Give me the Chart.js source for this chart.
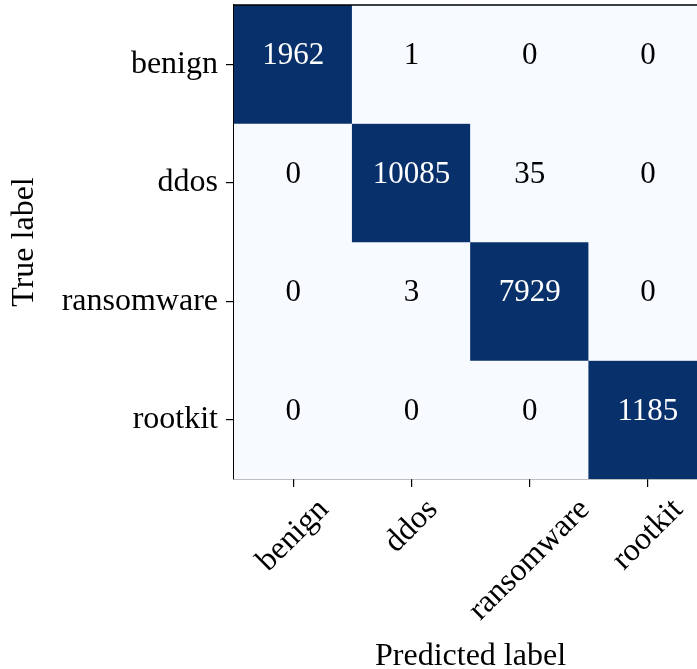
<!DOCTYPE html>
<html>
<head>
<meta charset="utf-8">
<script src="https://cdn.jsdelivr.net/npm/chart.js@4"></script>
<style>
  html, body { margin: 0; padding: 0; background: #fff; overflow: hidden; }
  #wrap { width: 712px; height: 669px; }
</style>
</head>
<body>
<div id="wrap"><canvas id="myChart"></canvas></div>
<script>
let classes = ['benign', 'ddos', 'ransomware', 'rootkit'];
let rowBenign = [1962, 1, 0, 0];
let rowDdos = [0, 10085, 35, 0];
let rowRansomware = [0, 3, 7929, 0];
let rowRootkit = [0, 0, 0, 1185];
let matrix = [rowBenign, rowDdos, rowRansomware, rowRootkit];

let fontFamily = '"Liberation Serif", "Times New Roman", serif';
let labelSize = 32;
let cellSize = 31;

// matplotlib "Blues"
let blues = ['#f7fbff', '#deebf7', '#c6dbef', '#9ecae1', '#6baed6', '#4292c6', '#2171b5', '#08519c', '#08306b'];

function hexToRgb(h) {
  return [parseInt(h.slice(1, 3), 16), parseInt(h.slice(3, 5), 16), parseInt(h.slice(5, 7), 16)];
}

function bluesColor(t) {
  t = Math.max(0, Math.min(1, t));
  let pos = t * (blues.length - 1);
  let i = Math.min(Math.floor(pos), blues.length - 2);
  let f = pos - i;
  let a = hexToRgb(blues[i]), b = hexToRgb(blues[i + 1]);
  let c = a.map((v, k) => Math.round(v + (b[k] - v) * f));
  return 'rgb(' + c.join(',') + ')';
}

// colour is the row-normalised share, text is the raw count
function share(r, c) {
  let sum = matrix[r].reduce((s, v) => s + v, 0);
  return sum ? matrix[r][c] / sum : 0;
}

let datasets = matrix.map((row, r) => ({
  label: classes[r],
  data: row.map(() => [r, r + 1]),
  backgroundColor: row.map((v, c) => bluesColor(share(r, c))),
  borderWidth: 0,
  barPercentage: 1,
  categoryPercentage: 1,
  grouped: false
}));

let cellText = {
  id: 'cellText',
  afterDatasetsDraw(chart) {
    let ctx = chart.ctx;
    ctx.save();
    ctx.font = cellSize + 'px ' + fontFamily;
    ctx.textAlign = 'center';
    ctx.textBaseline = 'middle';
    chart.data.datasets.forEach((ds, r) => {
      chart.getDatasetMeta(r).data.forEach((bar, c) => {
        let p = bar.getProps(['x', 'y', 'base'], true);
        ctx.fillStyle = share(r, c) > 0.5 ? '#ffffff' : '#000000';
        ctx.fillText(String(matrix[r][c]), p.x, (p.y + p.base) / 2 - 8);
      });
    });
    ctx.restore();
  },
  afterDraw(chart) {
    let ctx = chart.ctx;
    let area = chart.chartArea;
    ctx.save();
    // top and right frame lines
    ctx.strokeStyle = '#000';
    ctx.lineWidth = 1.3;
    ctx.beginPath();
    ctx.moveTo(area.left, area.top);
    ctx.lineTo(area.right, area.top);
    ctx.lineTo(area.right, area.bottom);
    ctx.stroke();
    // rotated x tick labels, centred under the tick like matplotlib
    let xs = chart.scales.x;
    ctx.font = labelSize + 'px ' + fontFamily;
    ctx.fillStyle = '#000';
    ctx.textAlign = 'center';
    ctx.textBaseline = 'middle';
    classes.forEach((lab, i) => {
      let x = xs.getPixelForTick(i);
      let w = ctx.measureText(lab).width;
      let half = (w + 22) / (2 * Math.SQRT2);
      ctx.save();
      ctx.translate(x, area.bottom + 18 + half);
      ctx.rotate(-Math.PI / 4);
      ctx.fillText(lab, 0, 0);
      ctx.restore();
    });
    ctx.restore();
  }
};

let ctx = document.getElementById('myChart').getContext('2d');

let myChart = new Chart(ctx, {
  type: 'bar',
  data: {
    labels: classes,
    datasets: datasets
  },
  options: {
    responsive: true,
    maintainAspectRatio: false,
    animation: false,
    layout: {
      padding: { left: 0, top: 5, right: 5, bottom: 0 }
    },
    plugins: {
      legend: { display: false },
      tooltip: { enabled: false }
    },
    scales: {
      x: {
        type: 'category',
        offset: true,
        afterFit: (scale) => {
          scale.height = 190;
          scale.paddingLeft = 0;
          scale.paddingRight = 0;
        },
        grid: {
          offset: false,
          drawOnChartArea: false,
          drawTicks: true,
          tickLength: 8,
          color: '#000',
          lineWidth: 1.2
        },
        border: { display: true, color: '#000', width: 1.3 },
        ticks: { display: false },
        title: {
          display: true,
          text: 'Predicted label',
          color: '#000',
          font: { family: fontFamily, size: labelSize, lineHeight: 0.8 },
          padding: { top: 0, bottom: 0 }
        }
      },
      y: {
        type: 'linear',
        min: 0,
        max: 4,
        reverse: true,
        afterFit: (scale) => {
          scale.width = 234;
          scale.paddingTop = 0;
          scale.paddingBottom = 0;
        },
        afterBuildTicks: (scale) => {
          scale.ticks = classes.map((c, i) => ({ value: i + 0.5 }));
        },
        grid: {
          drawOnChartArea: false,
          drawTicks: true,
          tickLength: 8,
          color: '#000',
          lineWidth: 1.2
        },
        border: { display: true, color: '#000', width: 1.3 },
        ticks: {
          color: '#000',
          padding: 8,
          font: { family: fontFamily, size: labelSize },
          callback: (value) => classes[Math.floor(value)]
        },
        title: {
          display: true,
          text: 'True label',
          color: '#000',
          font: { family: fontFamily, size: labelSize, lineHeight: 0.8 },
          padding: { top: 12, bottom: 0 }
        }
      }
    }
  },
  plugins: [cellText]
});
</script>
</body>
</html>
